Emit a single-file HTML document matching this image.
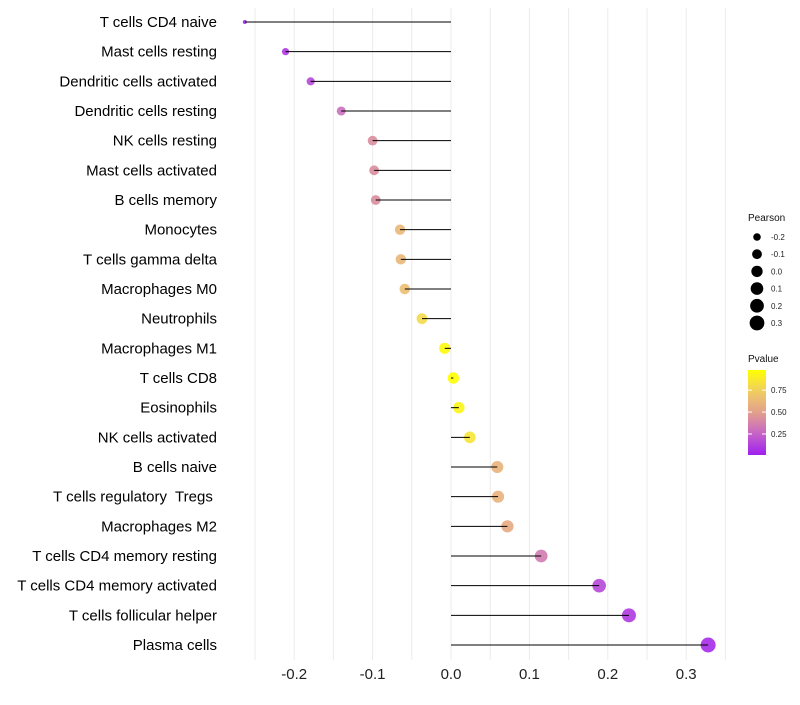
<!DOCTYPE html>
<html><head><meta charset="utf-8"><style>
body{margin:0;background:#fff;font-family:"Liberation Sans",sans-serif}
text{white-space:pre}
</style></head><body>
<svg id="c" width="800" height="700" xmlns="http://www.w3.org/2000/svg"></svg>
<script>
const categories=["T cells CD4 naive","Mast cells resting","Dendritic cells activated","Dendritic cells resting","NK cells resting","Mast cells activated","B cells memory","Monocytes","T cells gamma delta","Macrophages M0","Neutrophils","Macrophages M1","T cells CD8","Eosinophils","NK cells activated","B cells naive","T cells regulatory  Tregs ","Macrophages M2","T cells CD4 memory resting","T cells CD4 memory activated","T cells follicular helper","Plasma cells"];
const pearson=[-0.263,-0.211,-0.179,-0.140,-0.100,-0.098,-0.096,-0.065,-0.064,-0.059,-0.037,-0.008,0.003,0.010,0.024,0.059,0.060,0.072,0.115,0.189,0.227,0.328];
const pvalue=[0.05,0.1,0.15,0.3,0.42,0.42,0.42,0.62,0.62,0.66,0.8,0.95,0.98,0.93,0.85,0.6,0.6,0.55,0.35,0.15,0.1,0.05];
const xTicks=[-0.2,-0.1,0.0,0.1,0.2,0.3];
const xTickLabels=["-0.2","-0.1","0.0","0.1","0.2","0.3"];
const sizeLegend=[-0.2,-0.1,0.0,0.1,0.2,0.3];
const sizeLegendLabels=["-0.2","-0.1","0.0","0.1","0.2","0.3"];
const colorLegend=[0.75,0.50,0.25];
const colorLegendLabels=["0.75","0.50","0.25"];

const NS="http://www.w3.org/2000/svg";
const svg=document.getElementById('c');
function mk(t,a){const e=document.createElementNS(NS,t);for(const k in a)e.setAttribute(k,a[k]);svg.appendChild(e);return e;}
const x=v=>451+v*784;
const y=i=>22+i*(623/21);
const r=v=>2+5.5*Math.sqrt(Math.max(0,(v+0.263)/0.591));
const pMin=0.01,pMax=0.98;
function lerp(a,b,t){return a.map((v,i)=>Math.round(v+(b[i]-v)*t));}
function col(p){const t=Math.min(1,Math.max(0,(p-pMin)/(pMax-pMin)));
 const s=[[160,32,240],[198,100,200],[226,160,140],[240,205,100],[255,255,0]];
 const f=t*4,i=Math.min(3,Math.floor(f));const c=lerp(s[i],s[i+1],f-i);return `rgb(${c[0]},${c[1]},${c[2]})`;}

// grid
for(let v=-0.25;v<=0.351;v+=0.05){const g=mk('line',{x1:x(v),x2:x(v),y1:8,y2:660,stroke:'#ebebeb','stroke-width':1});

}
xTicks.forEach((v,i)=>{const t=mk('text',{x:x(v),y:679,'text-anchor':'middle','font-size':15,fill:'#222'});t.textContent=xTickLabels[i];

});
categories.forEach((c,i)=>{
 const t=mk('text',{x:217,y:y(i)+5,'text-anchor':'end','font-size':15,fill:'#000'});t.textContent=c;
 
 
 const p=mk('circle',{cx:x(pearson[i]),cy:y(i),r:r(pearson[i]),fill:col(pvalue[i]),'fill-opacity':0.9});
 
 
 const l=mk('line',{x1:x(0),x2:x(pearson[i]),y1:y(i),y2:y(i),stroke:'#000','stroke-width':1});
 
 
});
// size legend
let t=mk('text',{x:748,y:221,'font-size':10,fill:'#111'});t.textContent='Pearson';


sizeLegend.forEach((v,i)=>{const yy=237+i*17.2;
 const c=mk('circle',{cx:757,cy:yy,r:r(v),fill:'#000'});
 
 
 const tt=mk('text',{x:771,y:yy+3,'font-size':8,fill:'#222'});tt.textContent=sizeLegendLabels[i];
 
 });
// color legend
t=mk('text',{x:748,y:362,'font-size':10,fill:'#111'});t.textContent='Pvalue';


const defs=mk('defs',{});const gr=document.createElementNS(NS,'linearGradient');gr.setAttribute('id','g');gr.setAttribute('x1',0);gr.setAttribute('y1',1);gr.setAttribute('x2',0);gr.setAttribute('y2',0);defs.appendChild(gr);
for(let k=0;k<=10;k++){const s=document.createElementNS(NS,'stop');s.setAttribute('offset',k/10);s.setAttribute('stop-color',col(pMin+(pMax-pMin)*k/10));gr.appendChild(s);}
const by=p=>455-(p-pMin)/(pMax-pMin)*85;
const bar=mk('rect',{x:748,y:370,width:18,height:85,fill:'url(#g)'});


colorLegend.forEach((v,i)=>{mk('line',{x1:748,x2:752,y1:by(v),y2:by(v),stroke:'#fff'});mk('line',{x1:762,x2:766,y1:by(v),y2:by(v),stroke:'#fff'});
 const tt=mk('text',{x:771,y:by(v)+3,'font-size':8,fill:'#222'});tt.textContent=colorLegendLabels[i];
 
 });
</script>
</body></html>
